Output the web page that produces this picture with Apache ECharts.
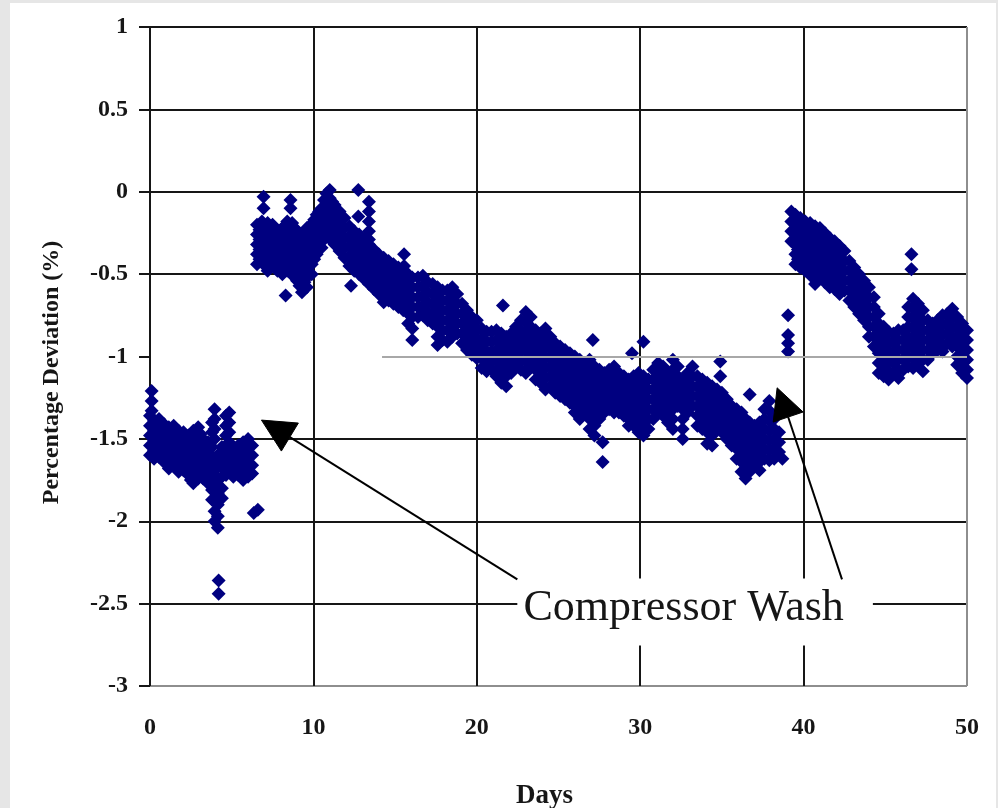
<!DOCTYPE html>
<html>
<head>
<meta charset="utf-8">
<script src="https://cdn.jsdelivr.net/npm/echarts@6/dist/echarts.min.js"></script>
<style>
  html, body { margin: 0; padding: 0; width: 998px; height: 808px; overflow: hidden; background: #e6e6e6; }
  #chart { position: absolute; left: 10px; top: 3px; width: 986px; height: 805px; background: #ffffff; }
</style>
</head>
<body>
<div id="chart"></div>
<script>
// Axis ranges and ticks
const dayTicks = [0, 10, 20, 30, 40, 50];
const deviationTicks = [-3, -2.5, -2, -1.5, -1, -0.5, 0, 0.5, 1];

// Each row: [day, deviation readings (%) logged on that day ...]
const beforeFirstWash = [
  [0.00, -1.36, -1.42, -1.48, -1.54, -1.60],
  [0.10, -1.21, -1.27, -1.33],
  [0.25, -1.39, -1.45, -1.51, -1.57, -1.62],
  [0.55, -1.38, -1.44, -1.50, -1.56, -1.61],
  [0.70, -1.41, -1.47, -1.53, -1.59],
  [0.85, -1.41, -1.47, -1.53, -1.59, -1.64],
  [1.15, -1.43, -1.49, -1.55, -1.61, -1.68],
  [1.30, -1.46, -1.52, -1.58, -1.64],
  [1.45, -1.42, -1.48, -1.54, -1.60, -1.66],
  [1.75, -1.45, -1.51, -1.57, -1.63, -1.70],
  [1.90, -1.48, -1.54, -1.60, -1.66],
  [2.05, -1.46, -1.52, -1.58, -1.64, -1.69],
  [2.35, -1.48, -1.54, -1.60, -1.66, -1.72],
  [2.50, -1.51, -1.57, -1.63, -1.69, -1.75],
  [2.65, -1.45, -1.51, -1.57, -1.63, -1.70, -1.77],
  [2.95, -1.43, -1.50, -1.56, -1.62, -1.68, -1.74],
  [3.10, -1.47, -1.53, -1.59, -1.65, -1.71],
  [3.25, -1.50, -1.56, -1.62, -1.68, -1.74],
  [3.55, -1.52, -1.58, -1.64, -1.70, -1.77],
  [3.80, -1.40, -1.46, -1.55, -1.61, -1.67, -1.74, -1.81, -1.87],
  [3.95, -1.32, -1.38, -1.44, -1.50, -1.64, -1.72, -1.80, -1.88, -1.94, -2.00],
  [4.15, -1.60, -1.67, -1.75, -1.83, -1.90, -1.97, -2.04],
  [4.20, -2.36, -2.44],
  [4.40, -1.55, -1.61, -1.67, -1.73, -1.80, -1.86],
  [4.65, -1.36, -1.42, -1.48, -1.54, -1.60, -1.66, -1.72],
  [4.85, -1.34, -1.40, -1.46, -1.52, -1.58, -1.64, -1.70],
  [5.10, -1.55, -1.61, -1.67, -1.73],
  [5.25, -1.58, -1.64, -1.70],
  [5.40, -1.54, -1.60, -1.66, -1.72],
  [5.70, -1.52, -1.58, -1.64, -1.70, -1.75],
  [5.85, -1.55, -1.61, -1.67],
  [6.00, -1.50, -1.56, -1.62, -1.68, -1.73],
  [6.25, -1.54, -1.60, -1.66, -1.71],
  [6.35, -1.95],
  [6.60, -1.93]
];

const betweenWashes = [
  [6.55, -0.20, -0.26, -0.32, -0.38, -0.44],
  [6.70, -0.23, -0.29, -0.35, -0.41],
  [6.85, -0.18, -0.24, -0.30, -0.36, -0.42],
  [6.95, -0.03, -0.10],
  [7.05, -0.21, -0.27, -0.33, -0.39, -0.45],
  [7.20, -0.19, -0.25, -0.31, -0.37, -0.43, -0.48],
  [7.35, -0.22, -0.28, -0.34, -0.40],
  [7.50, -0.20, -0.26, -0.32, -0.38, -0.44],
  [7.65, -0.23, -0.29, -0.35, -0.41, -0.46],
  [7.80, -0.24, -0.30, -0.36, -0.42, -0.48],
  [7.95, -0.27, -0.33, -0.39, -0.45],
  [8.10, -0.22, -0.28, -0.34, -0.40, -0.46, -0.50],
  [8.25, -0.21, -0.27, -0.33, -0.39, -0.45],
  [8.30, -0.63],
  [8.40, -0.18, -0.24, -0.30, -0.36, -0.42, -0.48],
  [8.55, -0.21, -0.27, -0.33, -0.39, -0.45],
  [8.60, -0.05, -0.10],
  [8.70, -0.19, -0.25, -0.31, -0.37, -0.43, -0.50],
  [8.85, -0.22, -0.28, -0.34, -0.40, -0.46, -0.52],
  [9.00, -0.24, -0.30, -0.36, -0.42, -0.48, -0.54],
  [9.15, -0.27, -0.33, -0.39, -0.45, -0.51, -0.57],
  [9.30, -0.26, -0.32, -0.38, -0.44, -0.50, -0.56, -0.61],
  [9.45, -0.25, -0.31, -0.37, -0.43, -0.49, -0.55],
  [9.60, -0.22, -0.28, -0.34, -0.40, -0.46, -0.52, -0.58],
  [9.75, -0.21, -0.27, -0.33, -0.39, -0.45],
  [9.90, -0.20, -0.26, -0.32, -0.38, -0.44, -0.50],
  [10.05, -0.17, -0.23, -0.29, -0.35, -0.41],
  [10.20, -0.14, -0.20, -0.26, -0.32, -0.38],
  [10.35, -0.12, -0.18, -0.24, -0.30],
  [10.50, -0.10, -0.16, -0.22, -0.28, -0.34],
  [10.65, -0.05, -0.11, -0.17, -0.23, -0.29],
  [10.80, -0.01, -0.06, -0.12, -0.18, -0.24],
  [11.00, 0.01, -0.04, -0.10, -0.16, -0.22, -0.27],
  [11.15, -0.06, -0.12, -0.18, -0.24, -0.30],
  [11.30, -0.08, -0.14, -0.20, -0.26, -0.32],
  [11.60, -0.12, -0.18, -0.24, -0.30, -0.36],
  [11.90, -0.16, -0.22, -0.28, -0.34, -0.40],
  [12.20, -0.21, -0.27, -0.33, -0.39, -0.45],
  [12.30, -0.57],
  [12.50, -0.24, -0.30, -0.36, -0.42, -0.48],
  [12.75, 0.01, -0.15],
  [12.80, -0.26, -0.32, -0.38, -0.44, -0.50],
  [13.10, -0.29, -0.35, -0.41, -0.47, -0.53],
  [13.40, -0.06, -0.12, -0.18, -0.24, -0.29, -0.32, -0.38, -0.44, -0.50, -0.56],
  [13.70, -0.35, -0.41, -0.47, -0.53, -0.59],
  [14.00, -0.38, -0.44, -0.50, -0.56, -0.62],
  [14.30, -0.40, -0.46, -0.52, -0.58, -0.64, -0.67],
  [14.60, -0.42, -0.48, -0.54, -0.60, -0.66],
  [14.90, -0.44, -0.50, -0.56, -0.62, -0.68],
  [15.20, -0.46, -0.52, -0.58, -0.64, -0.70],
  [15.50, -0.48, -0.54, -0.60, -0.66, -0.72],
  [15.55, -0.38, -0.45],
  [15.80, -0.50, -0.56, -0.62, -0.68, -0.74, -0.80],
  [16.05, -0.52, -0.58, -0.64, -0.70, -0.76, -0.83, -0.90],
  [16.40, -0.52, -0.58, -0.64, -0.70, -0.76],
  [16.70, -0.51, -0.57, -0.63, -0.69, -0.75],
  [17.00, -0.55, -0.61, -0.67, -0.73, -0.78],
  [17.30, -0.56, -0.62, -0.68, -0.74, -0.80],
  [17.60, -0.58, -0.64, -0.70, -0.76, -0.82, -0.88, -0.93],
  [17.90, -0.60, -0.66, -0.72, -0.78, -0.84, -0.90],
  [18.20, -0.60, -0.66, -0.72, -0.78, -0.84, -0.91],
  [18.50, -0.58, -0.64, -0.70, -0.76, -0.82, -0.88],
  [18.80, -0.62, -0.68, -0.74, -0.80, -0.86],
  [19.10, -0.68, -0.74, -0.80, -0.86, -0.92],
  [19.40, -0.72, -0.78, -0.84, -0.90, -0.96],
  [19.70, -0.76, -0.82, -0.88, -0.94, -0.99],
  [20.00, -0.78, -0.84, -0.90, -0.96, -1.01],
  [20.30, -0.83, -0.89, -0.95, -1.01, -1.07],
  [20.60, -0.85, -0.91, -0.97, -1.03, -1.09],
  [20.90, -0.85, -0.91, -0.97, -1.03, -1.08],
  [21.20, -0.84, -0.90, -0.96, -1.02, -1.08, -1.12],
  [21.50, -0.86, -0.92, -0.98, -1.04, -1.10, -1.16],
  [21.60, -0.69],
  [21.80, -0.88, -0.94, -1.00, -1.06, -1.12, -1.18],
  [22.10, -0.86, -0.92, -0.98, -1.04, -1.10],
  [22.40, -0.82, -0.88, -0.94, -1.00, -1.06],
  [22.70, -0.78, -0.84, -0.90, -0.96, -1.02, -1.08],
  [23.00, -0.73, -0.79, -0.85, -0.91, -0.97, -1.03, -1.10],
  [23.30, -0.76, -0.82, -0.88, -0.94, -1.00, -1.06],
  [23.60, -0.84, -0.90, -0.96, -1.02, -1.08, -1.14],
  [23.90, -0.86, -0.92, -0.98, -1.04, -1.10, -1.16],
  [24.20, -0.83, -0.89, -0.95, -1.01, -1.07, -1.13, -1.20],
  [24.50, -0.88, -0.94, -1.00, -1.06, -1.12, -1.18],
  [24.80, -0.92, -0.98, -1.04, -1.10, -1.16, -1.22],
  [25.10, -0.94, -1.00, -1.06, -1.12, -1.18, -1.24],
  [25.40, -0.96, -1.02, -1.08, -1.14, -1.20, -1.26],
  [25.70, -0.98, -1.04, -1.10, -1.16, -1.22, -1.28],
  [26.00, -1.00, -1.06, -1.12, -1.18, -1.24, -1.30, -1.34],
  [26.30, -1.02, -1.08, -1.14, -1.20, -1.26, -1.32, -1.38],
  [26.60, -1.04, -1.10, -1.16, -1.22, -1.28, -1.34],
  [26.90, -1.02, -1.08, -1.14, -1.20, -1.26, -1.32, -1.38, -1.44],
  [27.10, -0.90],
  [27.20, -1.06, -1.12, -1.18, -1.24, -1.30, -1.36, -1.42, -1.48],
  [27.50, -1.08, -1.14, -1.20, -1.26, -1.32, -1.38],
  [27.70, -1.52, -1.64],
  [27.80, -1.10, -1.16, -1.22, -1.28, -1.34],
  [28.10, -1.08, -1.14, -1.20, -1.26, -1.32],
  [28.40, -1.06, -1.12, -1.18, -1.24, -1.30, -1.34],
  [28.70, -1.10, -1.16, -1.22, -1.28, -1.34],
  [29.00, -1.12, -1.18, -1.24, -1.30, -1.36],
  [29.30, -1.14, -1.20, -1.26, -1.32, -1.38, -1.42],
  [29.50, -0.98],
  [29.60, -1.12, -1.18, -1.24, -1.30, -1.36, -1.42],
  [29.90, -1.10, -1.16, -1.22, -1.28, -1.34, -1.40, -1.46],
  [30.20, -0.91, -1.12, -1.18, -1.24, -1.30, -1.36, -1.42, -1.48],
  [30.50, -1.14, -1.20, -1.26, -1.32, -1.38, -1.44],
  [30.80, -1.08, -1.14, -1.20, -1.26, -1.32, -1.38],
  [31.10, -1.04, -1.10, -1.16, -1.22, -1.28, -1.34],
  [31.40, -1.06, -1.12, -1.18, -1.24, -1.30, -1.36],
  [31.70, -1.10, -1.16, -1.22, -1.28, -1.34, -1.40],
  [32.00, -1.02, -1.08, -1.14, -1.20, -1.26, -1.32, -1.38, -1.44],
  [32.30, -1.06, -1.12, -1.18, -1.24, -1.30],
  [32.60, -1.14, -1.20, -1.26, -1.32, -1.38, -1.44, -1.50],
  [32.90, -1.10, -1.16, -1.22, -1.28, -1.34],
  [33.20, -1.06, -1.12, -1.18, -1.24, -1.30],
  [33.50, -1.12, -1.18, -1.24, -1.30, -1.36, -1.42],
  [33.80, -1.14, -1.20, -1.26, -1.32, -1.38, -1.44],
  [34.10, -1.16, -1.22, -1.28, -1.34, -1.40, -1.46, -1.53],
  [34.40, -1.18, -1.24, -1.30, -1.36, -1.42, -1.48, -1.54],
  [34.70, -1.20, -1.26, -1.32, -1.38, -1.44],
  [34.90, -1.03, -1.12],
  [35.00, -1.22, -1.28, -1.34, -1.40, -1.46],
  [35.30, -1.26, -1.32, -1.38, -1.44, -1.50],
  [35.60, -1.30, -1.36, -1.42, -1.48, -1.54],
  [35.90, -1.32, -1.38, -1.44, -1.50, -1.56, -1.62],
  [36.20, -1.34, -1.40, -1.46, -1.52, -1.58, -1.64, -1.70],
  [36.45, -1.38, -1.44, -1.50, -1.56, -1.62, -1.68, -1.74],
  [36.70, -1.23, -1.40, -1.46, -1.52, -1.58, -1.64, -1.70],
  [37.00, -1.42, -1.48, -1.54, -1.60, -1.66],
  [37.30, -1.40, -1.46, -1.52, -1.58, -1.64, -1.69],
  [37.60, -1.32, -1.38, -1.44, -1.50, -1.56, -1.62],
  [37.90, -1.27, -1.33, -1.39, -1.45, -1.51, -1.57, -1.63],
  [38.20, -1.38, -1.44, -1.50, -1.56, -1.62],
  [38.50, -1.46, -1.52, -1.58],
  [38.70, -1.62],
  [39.05, -0.75, -0.87, -0.92, -0.97]
];

const afterSecondWash = [
  [39.25, -0.12, -0.18, -0.24, -0.30],
  [39.50, -0.14, -0.20, -0.26, -0.32, -0.38, -0.44],
  [39.65, -0.17, -0.23, -0.29, -0.35, -0.41],
  [39.80, -0.16, -0.22, -0.28, -0.34, -0.40, -0.46],
  [39.95, -0.19, -0.25, -0.31, -0.37, -0.43],
  [40.10, -0.18, -0.24, -0.30, -0.36, -0.42, -0.48],
  [40.25, -0.21, -0.27, -0.33, -0.39, -0.45],
  [40.40, -0.19, -0.25, -0.31, -0.37, -0.43, -0.50],
  [40.55, -0.22, -0.28, -0.34, -0.40, -0.46, -0.52],
  [40.70, -0.21, -0.27, -0.33, -0.39, -0.45, -0.51, -0.56],
  [40.85, -0.24, -0.30, -0.36, -0.42, -0.48],
  [41.00, -0.22, -0.28, -0.34, -0.40, -0.46, -0.52],
  [41.15, -0.26, -0.32, -0.38, -0.44, -0.50],
  [41.30, -0.25, -0.31, -0.37, -0.43, -0.49, -0.55],
  [41.45, -0.29, -0.35, -0.41, -0.47, -0.53],
  [41.60, -0.28, -0.34, -0.40, -0.46, -0.52, -0.58],
  [41.90, -0.30, -0.36, -0.42, -0.48, -0.54, -0.59],
  [42.20, -0.33, -0.39, -0.45, -0.51, -0.57, -0.62],
  [42.50, -0.36, -0.42, -0.48, -0.54, -0.60],
  [42.80, -0.42, -0.48, -0.54, -0.60, -0.66],
  [43.10, -0.46, -0.52, -0.58, -0.64, -0.70],
  [43.40, -0.50, -0.56, -0.62, -0.68, -0.74],
  [43.70, -0.54, -0.60, -0.66, -0.72, -0.78],
  [44.00, -0.58, -0.64, -0.70, -0.76, -0.82, -0.88],
  [44.30, -0.64, -0.70, -0.76, -0.82, -0.88, -0.94],
  [44.60, -0.74, -0.80, -0.86, -0.92, -0.98, -1.04, -1.10],
  [44.90, -0.82, -0.88, -0.94, -1.00, -1.06, -1.12],
  [45.20, -0.85, -0.91, -0.97, -1.03, -1.09, -1.14],
  [45.50, -0.86, -0.92, -0.98, -1.04, -1.10],
  [45.80, -0.84, -0.90, -0.96, -1.02, -1.08, -1.13],
  [46.10, -0.84, -0.90, -0.96, -1.02, -1.08],
  [46.40, -0.70, -0.76, -0.82, -0.88, -0.94, -1.00, -1.06],
  [46.60, -0.38, -0.47],
  [46.70, -0.65, -0.71, -0.77, -0.83, -0.89, -0.95, -1.01, -1.07],
  [47.00, -0.68, -0.74, -0.80, -0.86, -0.92, -0.98, -1.04],
  [47.30, -0.72, -0.78, -0.84, -0.90, -0.96, -1.02, -1.09],
  [47.60, -0.78, -0.84, -0.90, -0.96, -1.02],
  [47.90, -0.80, -0.86, -0.92, -0.98],
  [48.20, -0.78, -0.84, -0.90, -0.96],
  [48.50, -0.75, -0.81, -0.87, -0.93, -0.97],
  [48.80, -0.74, -0.80, -0.86, -0.92],
  [49.10, -0.71, -0.77, -0.83, -0.89, -0.94],
  [49.40, -0.76, -0.82, -0.88, -0.94, -1.00, -1.05],
  [49.70, -0.80, -0.86, -0.92, -0.98, -1.04, -1.10],
  [50.00, -0.84, -0.90, -0.96, -1.02, -1.08, -1.13]
];

// Partial reference rule at -1 % (drawn light grey)
const referenceRule = { value: -1, fromDay: 14.2, toDay: 50 };

// Callout: label box and the two arrows (data coordinates)
const washCallout = {
  text: 'Compressor Wash',
  boxCorners: [[22.48, -2.347], [44.24, -2.754]],
  textAnchor: [32.66, -2.53]
};
const washArrows = [
  { from: [22.48, -2.353], tip: [6.82, -1.386], wings: [[9.08, -1.404], [8.04, -1.574]] },
  { from: [42.35, -2.353], tip: [38.38, -1.19], wings: [[39.97, -1.337], [38.14, -1.398]] }
];

const toPoints = rows => rows.flatMap(r => r.slice(1).map(v => [r[0], v]));
const allPoints = toPoints(beforeFirstWash).concat(toPoints(betweenWashes), toPoints(afterSecondWash));

const INK = '#161616';
const GREY = '#8e8e8e';
const FONT = "'Liberation Serif', 'Times New Roman', serif";

const chart = echarts.init(document.getElementById('chart'), null, { renderer: 'canvas' });

const ySplitColors = deviationTicks.map(v => v === -3 ? GREY : (v === referenceRule.value ? 'rgba(0,0,0,0)' : INK));
const xSplitColors = dayTicks.map(d => d === 50 ? GREY : INK);

chart.setOption({
  animation: false,
  backgroundColor: '#ffffff',
  grid: { left: 140, top: 24, width: 817, height: 659, containLabel: false },
  xAxis: {
    type: 'value',
    min: dayTicks[0], max: dayTicks[dayTicks.length - 1], interval: 10,
    axisLine: { show: false },
    axisTick: { show: false },
    axisLabel: { margin: 30, color: INK, fontFamily: FONT, fontWeight: 'bold', fontSize: 24 },
    splitLine: { show: true, lineStyle: { color: xSplitColors, width: 2 } }
  },
  yAxis: {
    type: 'value',
    min: deviationTicks[0], max: deviationTicks[deviationTicks.length - 1], interval: 0.5,
    axisLine: { show: false },
    axisTick: { show: true, length: 11, lineStyle: { color: INK, width: 2 } },
    axisLabel: { margin: 22, color: INK, fontFamily: FONT, fontWeight: 'bold', fontSize: 24 },
    splitLine: { show: true, lineStyle: { color: ySplitColors, width: 2 } }
  },
  series: [
    {
      type: 'line',
      data: [],
      z: 1,
      silent: true,
      markLine: {
        silent: true,
        symbol: ['none', 'none'],
        label: { show: false },
        lineStyle: { color: '#a8a8a8', width: 2, type: 'solid' },
        data: [[
          { coord: [referenceRule.fromDay, referenceRule.value] },
          { coord: [referenceRule.toDay, referenceRule.value] }
        ]]
      }
    },
    {
      type: 'scatter',
      z: 3,
      symbol: 'diamond',
      symbolSize: 14,
      itemStyle: { color: '#000080', opacity: 1 },
      data: allPoints
    }
  ]
});

// Callout and axis titles, placed through the grid's own coordinate conversion
const px = p => chart.convertToPixel({ gridIndex: 0 }, p);
const b0 = px(washCallout.boxCorners[0]);
const b1 = px(washCallout.boxCorners[1]);
const ta = px(washCallout.textAnchor);
const gridRect = { left: px([0, 1])[0], right: px([50, -3])[0], top: px([0, 1])[1], bottom: px([50, -3])[1] };

const graphics = [
  {
    type: 'rect', z: 50,
    shape: { x: b0[0], y: b0[1], width: b1[0] - b0[0], height: b1[1] - b0[1] },
    style: { fill: '#ffffff' }
  },
  {
    type: 'text', z: 51, x: ta[0], y: ta[1],
    style: { text: washCallout.text, fill: INK, font: "44px " + FONT, align: 'center', verticalAlign: 'middle' }
  }
];
washArrows.forEach(a => {
  const f = px(a.from), t = px(a.tip), w1 = px(a.wings[0]), w2 = px(a.wings[1]);
  graphics.push({
    type: 'line', z: 52,
    shape: { x1: f[0], y1: f[1], x2: (w1[0] + w2[0]) / 2, y2: (w1[1] + w2[1]) / 2 },
    style: { stroke: '#000000', lineWidth: 2 }
  });
  graphics.push({
    type: 'polygon', z: 53,
    shape: { points: [t, w1, w2] },
    style: { fill: '#000000', stroke: '#000000', lineWidth: 1 }
  });
});
graphics.push({
  type: 'text', z: 51,
  x: (gridRect.left + gridRect.right) / 2 - 14, y: 793,
  style: { text: 'Days', fill: INK, font: "bold 27px " + FONT, align: 'center', verticalAlign: 'middle' }
});
graphics.push({
  type: 'text', z: 51,
  x: 42, y: (gridRect.top + gridRect.bottom) / 2 + 16,
  rotation: Math.PI / 2,
  style: { text: 'Percentage Deviation (%)', fill: INK, font: "bold 24px " + FONT, align: 'center', verticalAlign: 'middle' }
});

chart.setOption({ graphic: graphics });
</script>
</body>
</html>
